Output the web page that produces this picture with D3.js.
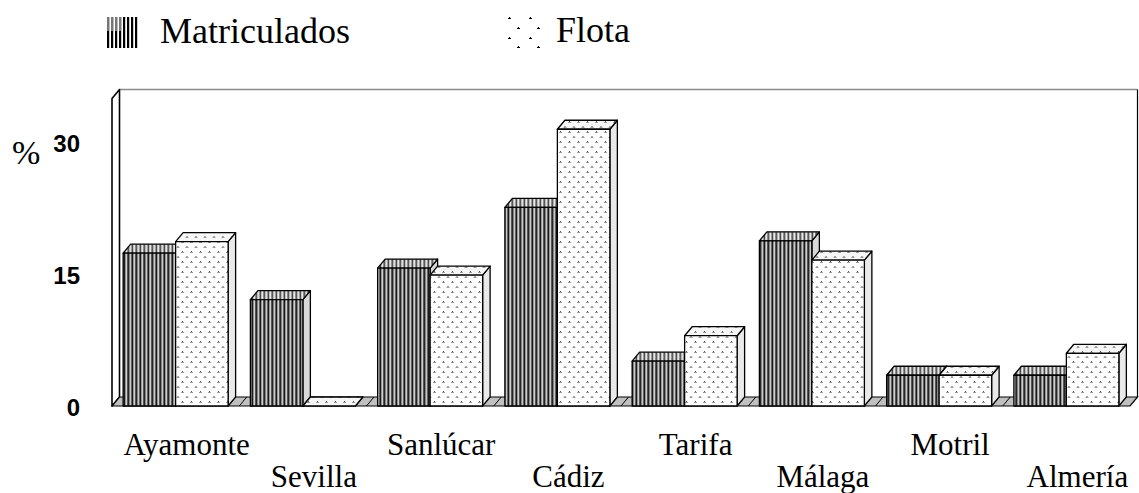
<!DOCTYPE html>
<html>
<head>
<meta charset="utf-8">
<script src="https://cdn.jsdelivr.net/npm/d3@7"></script>
<style>
  html, body { margin: 0; padding: 0; background: #fff; }
  svg { display: block; }
  .serif { font-family: "Liberation Serif", "Times New Roman", Times, serif; }
  .sans  { font-family: "Liberation Sans", Arial, Helvetica, sans-serif; }
</style>
</head>
<body>
<div id="chart"></div>
<script>
// Ports of Andalusia: share (%) of registered vessels vs. fleet
const categories = ["Ayamonte", "Sevilla", "Sanlúcar", "Cádiz", "Tarifa", "Málaga", "Motril", "Almería"];
const seriesNames = ["Matriculados", "Flota"];
const matriculados = [17.4, 12.1, 15.7, 22.6, 5.1, 18.8, 3.5, 3.5];
const flota = [18.7, 0, 14.9, 31.5, 8.0, 16.6, 3.5, 6.0];
const yTicks = [0, 15, 30];
const yMax = 35;

const W = 1139, H = 493;
const DX = 7.5, DY = -9;          // depth offset of the 3D box

const svg = d3.select("#chart").append("svg")
  .attr("width", W).attr("height", H)
  .attr("viewBox", `0 0 ${W} ${H}`);

svg.append("rect").attr("width", W).attr("height", H).attr("fill", "#fff");

// ---------- fill patterns ----------
const defs = svg.append("defs");

function stripePattern(id, cols) {
  const p = defs.append("pattern").attr("id", id)
    .attr("patternUnits", "userSpaceOnUse")
    .attr("width", cols.length).attr("height", 4);
  cols.forEach((c, i) => p.append("rect")
    .attr("x", i).attr("y", 0).attr("width", 1).attr("height", 4).attr("fill", c));
}
stripePattern("matFront", ["#262626", "#848484", "#c8c8c8", "#646464", "#1a1a1a", "#949494", "#d0d0d0", "#545454"]);
stripePattern("matTop",   ["#5a5a5a", "#b4b4b4", "#e2e2e2", "#9a9a9a", "#4a4a4a", "#c0c0c0", "#e8e8e8", "#8a8a8a"]);

function dotPattern(id, bg) {
  const p = defs.append("pattern").attr("id", id)
    .attr("patternUnits", "userSpaceOnUse")
    .attr("width", 9).attr("height", 10);
  p.append("rect").attr("width", 9).attr("height", 10).attr("fill", bg);
  [[1, 1], [5.5, 6]].forEach(([x, y]) => {
    p.append("rect").attr("x", x + 1).attr("y", y).attr("width", 1).attr("height", 1).attr("fill", "#555");
    p.append("rect").attr("x", x).attr("y", y + 1).attr("width", 3).attr("height", 1).attr("fill", "#9a9a9a");
  });
}
dotPattern("flotaFront", "#ffffff");
dotPattern("flotaTop", "#f6f6f6");

// ---------- scales ----------
const x0 = d3.scaleBand().domain(categories).range([112, 1130])
  .paddingInner(0.175).paddingOuter(0.0875);
const x1 = d3.scaleBand().domain(seriesNames).range([0, x0.bandwidth()]);
const y = d3.scaleLinear().domain([0, yMax]).range([406, 98.5]);

const fx0 = x0.range()[0], fx1 = x0.range()[1];
const yb = y(0), yt = y(yMax);

// ---------- walls and floor ----------
// back wall
svg.append("rect")
  .attr("x", fx0 + DX).attr("y", yt + DY)
  .attr("width", fx1 - fx0).attr("height", yb - yt)
  .attr("fill", "#fff");
svg.append("line")
  .attr("x1", fx0 + DX).attr("x2", fx1 + DX).attr("y1", yt + DY).attr("y2", yt + DY)
  .attr("stroke", "#8c8c8c").attr("stroke-width", 1.5);
svg.append("line")
  .attr("x1", fx1 + DX).attr("x2", fx1 + DX).attr("y1", yt + DY).attr("y2", yb + DY)
  .attr("stroke", "#000").attr("stroke-width", 1.2);
// left side wall
svg.append("polygon")
  .attr("points", [[fx0, yt], [fx0 + DX, yt + DY], [fx0 + DX, yb + DY], [fx0, yb]].join(" "))
  .attr("fill", "#fff").attr("stroke", "#000").attr("stroke-width", 1.6)
  .attr("stroke-linejoin", "round");
// floor
svg.append("polygon")
  .attr("points", [[fx0, yb], [fx1, yb], [fx1 + DX, yb + DY], [fx0 + DX, yb + DY]].join(" "))
  .attr("fill", "#c0c0c0").attr("stroke", "#000").attr("stroke-width", 1.2);
// category dividers on the floor
const step = x0.step();
d3.range(1, categories.length).forEach(k => {
  const xx = fx0 + k * step;
  svg.append("line")
    .attr("x1", xx).attr("y1", yb).attr("x2", xx + DX).attr("y2", yb + DY)
    .attr("stroke", "#000").attr("stroke-width", 1);
});

// ---------- 3D bars ----------
const styles = {
  Matriculados: { front: "url(#matFront)", top: "url(#matTop)", side: "#d8d8d8" },
  Flota:        { front: "url(#flotaFront)", top: "url(#flotaTop)", side: "#e9e9e9" }
};
const bars = [];
categories.forEach((c, i) => {
  bars.push({ cat: c, series: "Matriculados", value: matriculados[i] });
  bars.push({ cat: c, series: "Flota", value: flota[i] });
});

const g = svg.append("g").attr("stroke", "#000").attr("stroke-width", 1.3)
  .attr("stroke-linejoin", "round");
bars.forEach(d => {
  const xl = x0(d.cat) + x1(d.series);
  const xr = xl + x1.bandwidth();
  const yv = y(d.value);
  const st = styles[d.series];
  // side face
  g.append("polygon")
    .attr("points", [[xr, yv], [xr + DX, yv + DY], [xr + DX, yb + DY], [xr, yb]].join(" "))
    .attr("fill", st.side);
  // top face
  g.append("polygon")
    .attr("points", [[xl, yv], [xl + DX, yv + DY], [xr + DX, yv + DY], [xr, yv]].join(" "))
    .attr("fill", st.top);
  // front face
  g.append("rect")
    .attr("x", xl).attr("y", yv)
    .attr("width", xr - xl).attr("height", yb - yv)
    .attr("fill", st.front);
});

// ---------- value axis labels ----------
svg.append("g").selectAll("text").data(yTicks).join("text")
  .attr("class", "sans")
  .attr("x", 80).attr("y", d => y(d) + 1)
  .attr("text-anchor", "end").attr("dominant-baseline", "central")
  .attr("font-weight", "bold").attr("font-size", 24)
  .text(d => d);

svg.append("text")
  .attr("class", "serif")
  .attr("x", 12).attr("y", 164)
  .attr("font-size", 34)
  .text("%");

// ---------- category labels (staggered) ----------
svg.append("g").selectAll("text").data(categories).join("text")
  .attr("class", "serif")
  .attr("x", d => x0(d) + x0.bandwidth() / 2 + 11)
  .attr("y", (d, i) => i % 2 === 0 ? 455 : 487)
  .attr("text-anchor", "middle")
  .attr("font-size", 31)
  .text(d => d);

// ---------- legend ----------
const leg = svg.append("g");
// Matriculados swatch: vertical bars
d3.range(8).forEach(k => {
  leg.append("rect")
    .attr("x", 107 + k * 4).attr("y", 17).attr("width", 2.2).attr("height", 31)
    .attr("fill", "#000");
});
d3.range(4).forEach(k => {
  leg.append("rect")
    .attr("x", 107 + k * 4).attr("y", 17).attr("width", 2.2).attr("height", 14)
    .attr("fill", "#777");
});
leg.append("text")
  .attr("class", "serif")
  .attr("x", 160).attr("y", 43)
  .attr("font-size", 36)
  .text(seriesNames[0]);

// Flota swatch: sparse marks
const flotaMarks = [[508, 17], [529, 17], [517, 27], [537, 27], [508, 37], [529, 37], [517, 46], [537, 46]];
flotaMarks.forEach(([mx, my]) => {
  leg.append("rect").attr("x", mx + 1).attr("y", my).attr("width", 1).attr("height", 1).attr("fill", "#000");
  leg.append("rect").attr("x", mx).attr("y", my + 1).attr("width", 3).attr("height", 1).attr("fill", "#000");
});
leg.append("text")
  .attr("class", "serif")
  .attr("x", 556).attr("y", 42)
  .attr("font-size", 36)
  .text(seriesNames[1]);
</script>
</body>
</html>
